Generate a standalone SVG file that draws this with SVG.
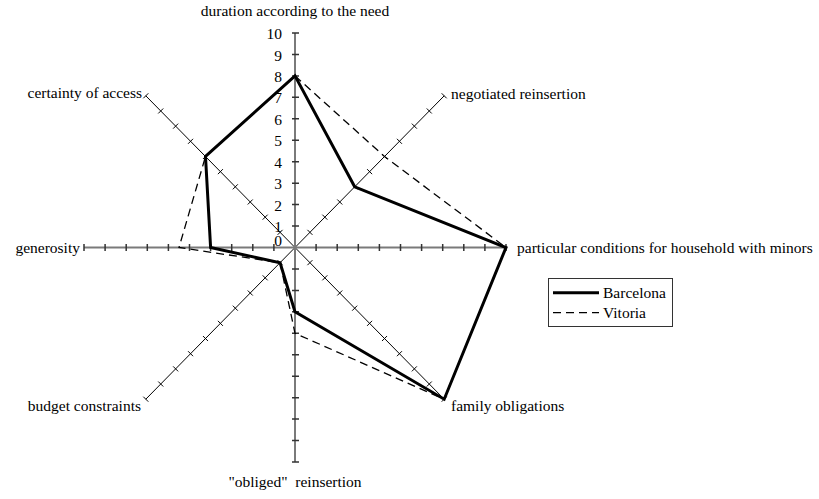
<svg xmlns="http://www.w3.org/2000/svg" width="819" height="499" viewBox="0 0 819 499" font-family="'Liberation Serif', 'DejaVu Serif', serif">
  <style>
    text { font-family: 'Liberation Serif', 'DejaVu Serif', serif; font-size: 15.5px; fill: #000; }
    .num { text-anchor: end; }
    .main { stroke: #7a7a7a; stroke-width: 2; fill: none; }
    .mtick { stroke: #333; stroke-width: 1.5; fill: none; }
    .diag { stroke: #000; stroke-width: 1; fill: none; }
    .barcelona { stroke: #000; stroke-width: 3; fill: none; stroke-linejoin: miter; }
    .vitoria { stroke: #000; stroke-width: 1.3; fill: none; stroke-dasharray: 8 5; }
  </style>
  <rect width="819" height="499" fill="#fff"/>

  <!-- radar axes, centre at (295, 247.5) -->
  <g id="axes">
    <path class="diag" d="M295 247.5L444.2 95.8M295 247.5L444.2 399.2M295 247.5L145.8 399.2M295 247.5L145.8 95.8"/>
    <path class="diag" d="M307.42 229.83l5 5M322.34 214.66l5 5M337.26 199.49l5 5M352.18 184.32l5 5M367.1 169.15l5 5M382.02 153.98l5 5M396.94 138.81l5 5M411.86 123.64l5 5M426.78 108.47l5 5M441.7 93.3l5 5"/>
    <path class="diag" d="M307.42 265.17l5 -5M322.34 280.34l5 -5M337.26 295.51l5 -5M352.18 310.68l5 -5M367.1 325.85l5 -5M382.02 341.02l5 -5M396.94 356.19l5 -5M411.86 371.36l5 -5M426.78 386.53l5 -5M441.7 401.7l5 -5"/>
    <path class="diag" d="M277.58 260.17l5 5M262.66 275.34l5 5M247.74 290.51l5 5M232.82 305.68l5 5M217.9 320.85l5 5M202.98 336.02l5 5M188.06 351.19l5 5M173.14 366.36l5 5M158.22 381.53l5 5M143.3 396.7l5 5"/>
    <path class="diag" d="M277.58 234.83l5 -5M262.66 219.66l5 -5M247.74 204.49l5 -5M232.82 189.32l5 -5M217.9 174.15l5 -5M202.98 158.98l5 -5M188.06 143.81l5 -5M173.14 128.64l5 -5M158.22 113.47l5 -5M143.3 98.3l5 -5"/>
    <path class="main" d="M295 33V462M84 247.5H506"/>
    <path class="mtick" d="M292 226.05h7M292 204.6h7M292 183.15h7M292 161.7h7M292 140.25h7M292 118.8h7M292 97.35h7M292 75.9h7M292 54.45h7M292 33h7"/>
    <path class="mtick" d="M292 268.95h7M292 290.4h7M292 311.85h7M292 333.3h7M292 354.75h7M292 376.2h7M292 397.65h7M292 419.1h7M292 440.55h7M292 462h7"/>
    <path class="mtick" d="M316.1 244v7M337.2 244v7M358.3 244v7M379.4 244v7M400.5 244v7M421.6 244v7M442.7 244v7M463.8 244v7M484.9 244v7M506 244v7"/>
    <path class="mtick" d="M273.9 244v7M252.8 244v7M231.7 244v7M210.6 244v7M189.5 244v7M168.4 244v7M147.3 244v7M126.2 244v7M105.1 244v7M84 244v7"/>
  </g>

  <!-- value scale -->
  <g id="scale">
    <text class="num" x="282" y="39">10</text>
    <text class="num" x="282" y="60.5">9</text>
    <text class="num" x="282" y="82">8</text>
    <text class="num" x="282" y="103.4">7</text>
    <text class="num" x="282" y="124.8">6</text>
    <text class="num" x="282" y="146.3">5</text>
    <text class="num" x="282" y="167.7">4</text>
    <text class="num" x="282" y="189.2">3</text>
    <text class="num" x="282" y="210.6">2</text>
    <text class="num" x="282" y="231.5">1</text>
    <text class="num" x="282" y="245.5">0</text>
  </g>

  <!-- category labels -->
  <g id="label-duration"><text x="295" y="16" text-anchor="middle">duration according to the need</text></g>
  <g id="label-negotiated"><text x="451" y="99">negotiated reinsertion</text></g>
  <g id="label-particular"><text x="517" y="253">particular conditions for household with minors</text></g>
  <g id="label-family"><text x="451" y="411">family obligations</text></g>
  <g id="label-obliged"><text x="295" y="487" text-anchor="middle" xml:space="preserve">"obliged"  reinsertion</text></g>
  <g id="label-budget"><text x="141" y="411" text-anchor="end">budget constraints</text></g>
  <g id="label-generosity"><text x="80" y="253" text-anchor="end">generosity</text></g>
  <g id="label-certainty"><text x="142" y="98" text-anchor="end">certainty of access</text></g>

  <!-- data series -->
  <g id="series">
    <polygon id="vitoria" class="vitoria" points="295,75.9 384.5,156.5 506,247.5 444.2,399.2 295,333.3 280.1,262.7 179,247.5 205.5,156.5"/>
    <polygon id="barcelona" class="barcelona" points="295,75.9 354.7,186.8 506,247.5 444.2,399.2 295,311.85 280.1,262.7 210.6,247.5 205.5,156.5"/>
  </g>

  <!-- legend -->
  <g id="legend">
    <rect x="548.5" y="278.5" width="124" height="48" fill="#fff" stroke="#333" stroke-width="1"/>
    <line class="barcelona" x1="553" y1="292.7" x2="599" y2="292.7"/>
    <line class="vitoria" x1="553" y1="312.7" x2="599" y2="312.7"/>
    <text x="603" y="298">Barcelona</text>
    <text x="603" y="318">Vitoria</text>
  </g>
</svg>
